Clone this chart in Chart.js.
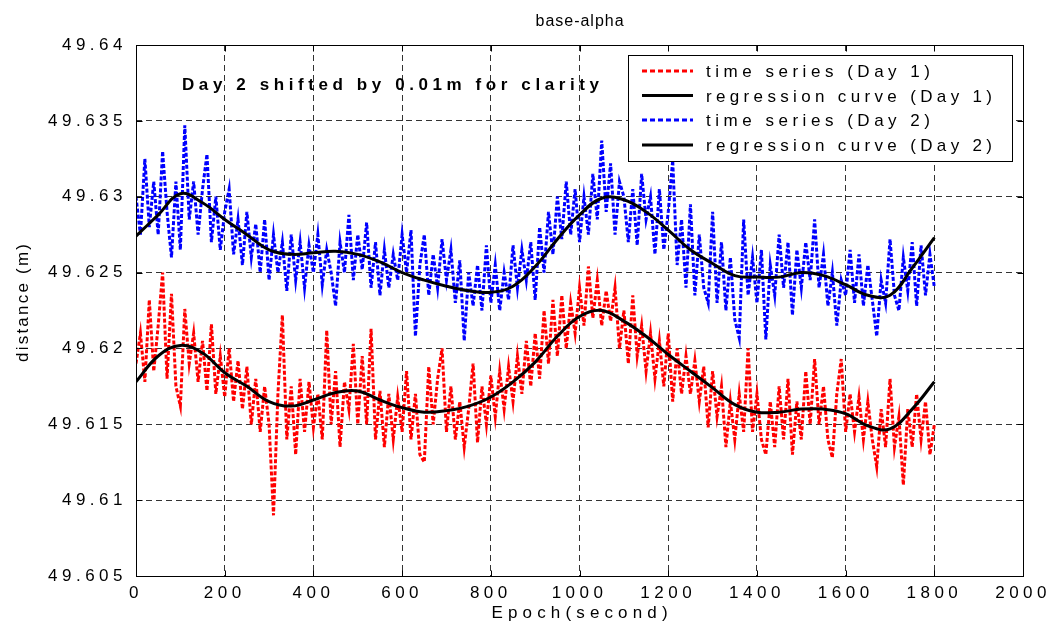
<!DOCTYPE html>
<html lang="en">
<head>
  <meta charset="UTF-8">
  <title>base-alpha</title>
  <script src="https://cdn.jsdelivr.net/npm/chart.js"></script>
  <style>
    body {
      margin: 0;
      background: #fff;
    }
    #wrap {
      width: 1058px;
      height: 632px;
    }
  </style>
</head>
<body>
  <div id="wrap">
    <canvas id="distChart" width="1058" height="632"></canvas>
  </div>

  <script>
    // sampled epochs (seconds), one reading every 10 s
    const epochs = Array.from({ length: 181 }, (_, i) => i * 10);

    // time series, Day 1 (m)
    const seriesDay1 = [
      49.6190, 49.6210, 49.6178, 49.6232, 49.6185, 49.6215, 49.6250, 49.6180, 49.6236, 49.6175,
      49.6162, 49.6226, 49.6190, 49.6210, 49.6178, 49.6205, 49.6172, 49.6216, 49.6170, 49.6195,
      49.6168, 49.6200, 49.6165, 49.6192, 49.6160, 49.6188, 49.6150, 49.6180, 49.6145, 49.6175,
      49.6150, 49.6090, 49.6170, 49.6222, 49.6140, 49.6175, 49.6130, 49.6180, 49.6145, 49.6178,
      49.6148, 49.6170, 49.6140, 49.6212, 49.6150, 49.6185, 49.6135, 49.6178, 49.6160, 49.6203,
      49.6150, 49.6195, 49.6150, 49.6213, 49.6140, 49.6172, 49.6135, 49.6170, 49.6140, 49.6168,
      49.6145, 49.6185, 49.6140, 49.6170, 49.6130, 49.6125, 49.6188, 49.6150, 49.6180, 49.6200,
      49.6145, 49.6175, 49.6140, 49.6165, 49.6135, 49.6160, 49.6190, 49.6138, 49.6175, 49.6150,
      49.6182, 49.6155, 49.6185, 49.6160, 49.6188, 49.6165, 49.6195, 49.6170, 49.6205, 49.6175,
      49.6210, 49.6180, 49.6225, 49.6190, 49.6232, 49.6195, 49.6235, 49.6200, 49.6230, 49.6210,
      49.6240, 49.6215, 49.6254, 49.6220, 49.6245, 49.6215, 49.6238, 49.6218, 49.6240, 49.6200,
      49.6225, 49.6190, 49.6235, 49.6195, 49.6215, 49.6185, 49.6210, 49.6180, 49.6205, 49.6175,
      49.6210, 49.6165, 49.6200, 49.6170, 49.6195, 49.6170, 49.6192, 49.6165, 49.6188, 49.6148,
      49.6185, 49.6155, 49.6175, 49.6135, 49.6165, 49.6140, 49.6170, 49.6145, 49.6200, 49.6145,
      49.6170, 49.6140, 49.6130, 49.6165, 49.6135, 49.6175, 49.6140, 49.6180, 49.6130, 49.6165,
      49.6140, 49.6185, 49.6150, 49.6193, 49.6150, 49.6175, 49.6140, 49.6128, 49.6170, 49.6193,
      49.6145, 49.6170, 49.6145, 49.6168, 49.6140, 49.6165, 49.6140, 49.6122, 49.6160, 49.6135,
      49.6180, 49.6135, 49.6155, 49.6110, 49.6160, 49.6135, 49.6170, 49.6140, 49.6165, 49.6130,
      49.6150
    ];

    // time series, Day 2 (m), already shifted by 0.01 m
    const seriesDay2 = [
      49.6300, 49.6275, 49.6325, 49.6280, 49.6310, 49.6275, 49.6330, 49.6290, 49.6260, 49.6310,
      49.6265, 49.6347, 49.6285, 49.6310, 49.6275, 49.6305, 49.6328, 49.6270, 49.6300, 49.6265,
      49.6290, 49.6305, 49.6262, 49.6285, 49.6255, 49.6290, 49.6260, 49.6282, 49.6250, 49.6285,
      49.6245, 49.6275, 49.6250, 49.6270, 49.6238, 49.6275, 49.6245, 49.6270, 49.6240, 49.6268,
      49.6250, 49.6275, 49.6242, 49.6265, 49.6250, 49.6228, 49.6270, 49.6250, 49.6288, 49.6245,
      49.6275, 49.6252, 49.6283, 49.6240, 49.6270, 49.6235, 49.6265, 49.6240, 49.6262, 49.6245,
      49.6275, 49.6250, 49.6278, 49.6208, 49.6255, 49.6275, 49.6235, 49.6262, 49.6240, 49.6272,
      49.6245, 49.6265, 49.6230, 49.6258, 49.6205, 49.6250, 49.6228, 49.6255, 49.6225, 49.6268,
      49.6230, 49.6255, 49.6225, 49.6250, 49.6232, 49.6268, 49.6240, 49.6265, 49.6245, 49.6270,
      49.6232, 49.6280, 49.6250, 49.6290, 49.6262, 49.6300, 49.6272, 49.6310, 49.6275, 49.6305,
      49.6270, 49.6300, 49.6275, 49.6315, 49.6285, 49.6337, 49.6290, 49.6322, 49.6275, 49.6310,
      49.6300, 49.6270, 49.6305, 49.6268, 49.6315, 49.6285, 49.6300, 49.6262, 49.6305, 49.6265,
      49.6290, 49.6324, 49.6255, 49.6285, 49.6240, 49.6295, 49.6235, 49.6275, 49.6240, 49.6230,
      49.6290, 49.6230, 49.6270, 49.6225, 49.6260, 49.6219, 49.6207, 49.6285, 49.6235, 49.6260,
      49.6230, 49.6265, 49.6206, 49.6255, 49.6235, 49.6275, 49.6240, 49.6270, 49.6222, 49.6265,
      49.6240, 49.6270, 49.6245, 49.6285, 49.6240, 49.6262, 49.6228, 49.6250, 49.6215, 49.6245,
      49.6235, 49.6265, 49.6230, 49.6262, 49.6228, 49.6255, 49.6232, 49.6208, 49.6245, 49.6230,
      49.6272, 49.6235, 49.6225, 49.6260, 49.6238, 49.6270, 49.6228, 49.6268, 49.6235, 49.6262,
      49.6240
    ];

    // regression curves, read every 50 s
    const regEpochs = [
      0, 50, 100, 150, 200, 250, 300, 350, 400, 450, 500, 550, 600, 650, 700, 750, 800, 850, 900,
      950, 1000, 1050, 1100, 1150, 1200, 1250, 1300, 1350, 1400, 1450, 1500, 1550, 1600, 1650,
      1700, 1750, 1800
    ];
    const regDay1 = [
      49.6178, 49.6195, 49.6202, 49.6197, 49.6184, 49.6175, 49.6165, 49.6162, 49.6166, 49.6171,
      49.6172, 49.6166, 49.6161, 49.6158, 49.6159, 49.6162, 49.6168, 49.6178, 49.6191, 49.6208,
      49.6221, 49.6225, 49.6218, 49.6208, 49.6196, 49.6185, 49.6174, 49.6163, 49.6158, 49.6158,
      49.6160, 49.6160, 49.6157, 49.6149, 49.6147, 49.6160, 49.6178
    ];
    const regDay2 = [
      49.6274, 49.6288, 49.6302, 49.6296, 49.6285, 49.6275, 49.6265, 49.6262, 49.6263, 49.6264,
      49.6262, 49.6257, 49.6250, 49.6245, 49.6241, 49.6238, 49.6237, 49.6241, 49.6254, 49.6272,
      49.6288, 49.6299, 49.6298, 49.6290, 49.6278, 49.6265, 49.6256, 49.6248, 49.6247, 49.6247,
      49.6250, 49.6248, 49.6242, 49.6235, 49.6235, 49.6253, 49.6273
    ];

    const xTicks = [0, 200, 400, 600, 800, 1000, 1200, 1400, 1600, 1800, 2000];
    const yTicks = [49.605, 49.61, 49.615, 49.62, 49.625, 49.63, 49.635, 49.64];
    const yTickLabels = ['49.605', '49.61', '49.615', '49.62', '49.625', '49.63', '49.635', '49.64'];

    const legendItems = [
      { text: 'time series (Day 1)', color: '#ff0000', dash: [5, 3], width: 224 },
      { text: 'regression curve (Day 1)', color: '#000000', dash: [], width: 286 },
      { text: 'time series (Day 2)', color: '#0000ff', dash: [5, 3], width: 224 },
      { text: 'regression curve (Day 2)', color: '#000000', dash: [], width: 286 }
    ];

    const FONT = '"Liberation Sans", Arial, sans-serif';

    // draw text stretched with letter spacing to a given width
    function spacedText(ctx, text, x, y, width, align) {
      ctx.letterSpacing = '0px';
      const w0 = ctx.measureText(text).width;
      const gap = Math.max(0, (width - w0) / (text.length - 1));
      ctx.letterSpacing = gap + 'px';
      ctx.textAlign = 'left';
      const left = align === 'center' ? x - width / 2 : x;
      ctx.fillText(text, left, y);
      ctx.letterSpacing = '0px';
    }

    const matlabLook = {
      id: 'matlabLook',
      beforeLayout(chart) { chart.ctx.letterSpacing = '4.5px'; },
      beforeDraw(chart) { chart.ctx.letterSpacing = '4.5px'; },
      afterDraw(chart) {
        const { ctx, chartArea: a } = chart;
        const xs = chart.scales.x, ys = chart.scales.y;
        const L = Math.round(a.left) + 0.5, R = Math.round(a.right) + 0.5;
        const T = Math.round(a.top) + 0.5, B = Math.round(a.bottom) + 0.5;

        ctx.save();
        ctx.setLineDash([]);
        ctx.strokeStyle = '#000';
        ctx.lineWidth = 1;

        // inner tick marks on all four sides
        ctx.beginPath();
        xTicks.forEach(v => {
          const px = Math.round(xs.getPixelForValue(v)) + 0.5;
          ctx.moveTo(px, B); ctx.lineTo(px, B - 6);
          ctx.moveTo(px, T); ctx.lineTo(px, T + 6);
        });
        yTicks.forEach(v => {
          const py = Math.round(ys.getPixelForValue(v)) + 0.5;
          ctx.moveTo(L, py); ctx.lineTo(L + 6, py);
          ctx.moveTo(R, py); ctx.lineTo(R - 6, py);
        });
        ctx.stroke();
        ctx.strokeRect(L, T, R - L, B - T);

        ctx.fillStyle = '#000';
        ctx.textBaseline = 'alphabetic';

        // title
        ctx.font = '16px ' + FONT;
        spacedText(ctx, 'base-alpha', (a.left + a.right) / 2, 26, 88, 'center');

        // x axis title
        ctx.font = '17px ' + FONT;
        spacedText(ctx, 'Epoch(second)', (a.left + a.right) / 2, 618, 176, 'center');

        // y axis title
        ctx.save();
        ctx.translate(28, 303);
        ctx.rotate(-Math.PI / 2);
        ctx.font = '17px ' + FONT;
        spacedText(ctx, 'distance (m)', 0, 0, 118, 'center');
        ctx.restore();

        // annotation
        ctx.font = 'bold 17px ' + FONT;
        spacedText(ctx, 'Day 2 shifted by 0.01m for clarity', 182, 90, 417, 'left');

        // legend box
        const bx = 628.5, by = 55.5, bw = 384, bh = 106;
        ctx.fillStyle = '#fff';
        ctx.fillRect(bx, by, bw, bh);
        ctx.strokeRect(bx, by, bw, bh);
        const baselines = [77, 101.5, 126, 151];
        legendItems.forEach((it, i) => {
          const yl = baselines[i] - 6;
          ctx.beginPath();
          ctx.strokeStyle = it.color;
          ctx.lineWidth = 3;
          ctx.setLineDash(it.dash);
          ctx.moveTo(642, yl);
          ctx.lineTo(693, yl);
          ctx.stroke();
          ctx.setLineDash([]);
          ctx.fillStyle = '#000';
          ctx.font = '17px ' + FONT;
          spacedText(ctx, it.text, 706, baselines[i], it.width, 'left');
        });
        ctx.restore();
      }
    };

    const toPoints = (xsArr, ysArr) => xsArr.map((t, i) => ({ x: t, y: ysArr[i] }));

    new Chart(document.getElementById('distChart'), {
      type: 'line',
      data: {
        datasets: [
          {
            label: 'time series (Day 1)',
            data: toPoints(epochs, seriesDay1),
            borderColor: '#ff0000',
            borderWidth: 3,
            borderDash: [4, 2],
            pointRadius: 0,
            tension: 0,
            order: 4
          },
          {
            label: 'regression curve (Day 1)',
            data: toPoints(regEpochs, regDay1),
            borderColor: '#000',
            borderWidth: 3,
            pointRadius: 0,
            tension: 0.4,
            order: 3
          },
          {
            label: 'time series (Day 2)',
            data: toPoints(epochs, seriesDay2),
            borderColor: '#0000ff',
            borderWidth: 3,
            borderDash: [4, 2],
            pointRadius: 0,
            tension: 0,
            order: 2
          },
          {
            label: 'regression curve (Day 2)',
            data: toPoints(regEpochs, regDay2),
            borderColor: '#000',
            borderWidth: 3,
            pointRadius: 0,
            tension: 0.4,
            order: 1
          }
        ]
      },
      options: {
        responsive: false,
        animation: false,
        layout: { padding: { left: 0, right: 31, top: 45, bottom: 0 } },
        plugins: {
          legend: { display: false },
          title: { display: false },
          tooltip: { enabled: false }
        },
        scales: {
          x: {
            type: 'linear',
            min: 0,
            max: 2000,
            afterBuildTicks: s => { s.ticks = xTicks.map(v => ({ value: v })); },
            afterFit: s => { s.height = 56; },
            ticks: {
              color: '#000',
              font: { family: FONT, size: 17 },
              padding: 7,
              maxRotation: 0,
              callback: v => String(v)
            },
            grid: { color: '#333', lineWidth: 1, drawTicks: false },
            border: { display: false, dash: [6, 4] }
          },
          y: {
            type: 'linear',
            min: 49.605,
            max: 49.64,
            afterBuildTicks: s => { s.ticks = yTicks.map(v => ({ value: v })); },
            afterFit: s => { s.width = 136; },
            ticks: {
              color: '#000',
              font: { family: FONT, size: 17 },
              padding: 9,
              callback: (v, i) => yTickLabels[i]
            },
            grid: { color: '#333', lineWidth: 1, drawTicks: false },
            border: { display: false, dash: [6, 4] }
          }
        }
      },
      plugins: [matlabLook]
    });
  </script>
</body>
</html>
